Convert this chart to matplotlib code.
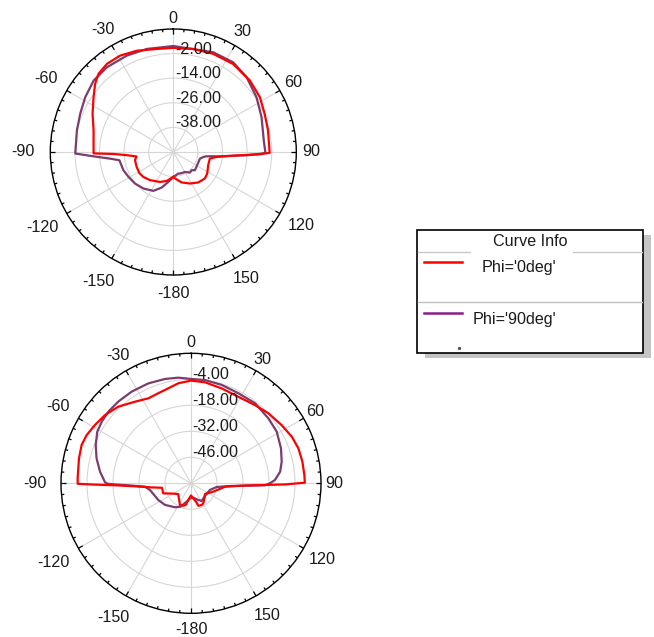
import numpy as np
import matplotlib
matplotlib.use("Agg")
import matplotlib.pyplot as plt
from matplotlib.patches import Rectangle
from matplotlib.lines import Line2D
from matplotlib.transforms import ScaledTranslation

plt.rcParams['font.family'] = ['Liberation Sans', 'DejaVu Sans']

# ---------------- data ----------------
angle_ticks = [0, 30, 60, 90, 120, 150, 180, -150, -120, -90, -60, -30]
angle_labels = ["0", "30", "60", "90", "120", "150", "-180", "-150", "-120", "-90", "-60", "-30"]

top_rings = [-38, -26, -14, -2]
top_ring_labels = ["-38.00", "-26.00", "-14.00", "-2.00"]
top_rlim = [-50, 10]

bot_rings = [-46, -32, -18, -4]
bot_ring_labels = ["-46.00", "-32.00", "-18.00", "-4.00"]
bot_rlim = [-60, 10]

# top chart, Phi='0deg'
top_phi0_theta = [-180, -173, -167, -156, -140.5, -130, -122, -112, -102, -96.9, -93.6, -91.9, -91.0,
                  -74.8, -64.6, -55.5, -48.9, -43.7, -37, -28.9, -19.8, -9.1, 0, 10.9, 22.1, 34.2,
                  46.9, 57.6, 67.3, 77.1, 90.5, 91.5, 92.8, 94, 96.7, 100.2, 110.8, 122.4, 130,
                  140.7, 152.1, 164.6, 173, 180]
top_phi0_db = [-37.8, -36.8, -35.5, -34, -32.2, -31, -30.5, -30.7, -30.9, -31.9, -26.6, -20.8, -11.1,
               -9.7, -6.4, -2.8, 0.6, 2.8, 3.8, 3.7, 2.5, 0.9, 0.8, 1.2, 1.7, 1.9,
               1.1, 0, -1.7, -2.6, -3.0, -7.8, -17.5, -22.4, -29, -31.9, -31.8, -30.4, -29.9,
               -30.8, -32.6, -34.6, -36.5, -37.8]

# top chart, Phi='90deg'
top_phi90_theta = [-180, -170.5, -162, -152.9, -140.7, -129.5, -119, -110.1, -98.7, -96, -93.1, -90.9,
                   -77.3, -67.6, -58.1, -48.1, -38.1, -25.7, -14.4, 0, 21.8, 33.7, 44.4, 56.6, 68.4,
                   82.6, 90.3, 91, 92.6, 95.7, 97.3, 99.5, 103.9, 119, 130.1, 134.8, 141, 149.7,
                   162.8, 167, 180]
top_phi90_db = [-37.8, -35.2, -31.8, -28.7, -27, -25.8, -25, -24.1, -23.4, -19, -11, -2.2,
                -1.8, -0.9, 0.6, 2.2, 2.5, 2.2, 1.9, 1.7, 2.4, 2.6, 1.1, -1.4, -3.7,
                -5.5, -5.1, -6.5, -14.3, -28.8, -33.6, -35.2, -36.6, -36.7, -36.2, -37.4, -37.1, -38.7,
                -39, -39.2, -37.8]

# bottom chart, Phi='0deg'
bot_phi0_theta = [-180, -172, -166.3, -161, -153.1, -145, -130, -118.5, -109.9, -98.8, -95.6, -93.1,
                  -91.5, -90.8, -90.25, -87.5, -77.4, -70.7, -65.2, -58.7, -51.5, -43.5, -34.5, -26.7,
                  -20, -13.4, -7.2, 0, 7.9, 17.9, 28.6, 39.3, 47.8, 57.3, 65.2, 71.9, 79, 85.8, 89.7,
                  90.7, 91.3, 92.3, 95.7, 110.6, 127.4, 138.4, 148.4, 153.8, 162, 163.6, 172, 180]
bot_phi0_db = [-53.2, -51.5, -48, -47.2, -46.9, -48.9, -51, -48.4, -44.1, -44.2, -37.8, -29.8,
               -19.1, -8.3, 1.0, 1.1, 1.8, 2.4, 1.9, 0.5, -0.9, -3.1, -6.7, -8.8,
               -8.4, -7.4, -5.7, -4.7, -5.1, -6.3, -6.9, -5.6, -3.8, -2, -0.2, 0.8, 1.1, 1.2, 1.3,
               -9.4, -20.2, -30.9, -41.6, -47.2, -50.5, -49.1, -47.4, -47, -47.3, -49.1, -52, -53.2]

# bottom chart, Phi='90deg'
bot_phi90_theta = [-180, -170, -155, -146.3, -129.8, -117, -105.8, -99.3, -94.2, -92, -91, -90.3, -89.3,
                   -82.7, -75.2, -68.1, -61.2, -55.4, -49.1, -41.7, -32.9, -23.1, -14, -6.9, 0, 7.7,
                   17.3, 27.7, 38.7, 50, 58.9, 68.7, 76.6, 82.6, 87.8, 90, 91.5, 92.3, 94, 98.2, 109.4,
                   131.5, 148.9, 156.4, 171, 180]
bot_phi90_db = [-52.5, -50.5, -46, -44.5, -41.8, -40.2, -38.9, -37.6, -35.2, -27, -20, -15, -13.7,
                -10.6, -7.4, -4.7, -2.4, -1.6, -1.1, -1.1, -1.2, -1.5, -2.1, -2.7, -3.8, -3.9,
                -4.5, -5.2, -4.8, -5.6, -6.1, -8, -9.8, -11.6, -14.8, -17.5, -20, -28.2, -39, -46, -49.2,
                -49.9, -48.9, -50.2, -52.1, -52.5]

legend_title = "Curve Info"
series_names = ["Phi='0deg'", "Phi='90deg'"]

# ---------------- styling ----------------
RED = '#ff0000'
PURPLE = '#7d3c6e'
LEG_PURPLE = '#8b1c8b'
GRID = '#d6d6d6'
TXT = '#1a1a1a'
FS = 11.6

W, H = 654, 637
fig = plt.figure(figsize=(W / 100, H / 100), dpi=100)


def make_polar(cx, cy, R, rlim, rings, ring_labels, label_r, curves):
    ax = fig.add_axes([(cx - R) / W, 1 - (cy + R) / H, 2 * R / W, 2 * R / H], projection='polar')
    ax.set_theta_zero_location('N')
    ax.set_theta_direction(-1)
    ax.set_ylim(rlim[0], rlim[1])
    ax.set_yticks(rings)
    ax.set_yticklabels([])
    ax.set_xticks(np.deg2rad(np.arange(0, 360, 30)))
    ax.set_xticklabels([])
    ax.tick_params(axis='both', length=0)
    ax.grid(True, which='major', color=GRID, lw=0.8)
    ax.spines['polar'].set_color('black')
    ax.spines['polar'].set_linewidth(1.0)
    ax.set_facecolor('white')
    for th, db, col in curves:
        ax.plot(np.deg2rad(th), db, color=col, lw=1.6, zorder=3)
    # inward ticks on the outer ring: every 5 deg, longer every 30 deg
    span = rlim[1] - rlim[0]
    for a in range(0, 360, 5):
        lp = 5.0 if a % 30 == 0 else 2.8
        t = np.deg2rad(a)
        ax.plot([t, t], [rlim[1] - lp / R * span, rlim[1]], color='black', lw=0.9,
                solid_capstyle='butt', zorder=4, clip_on=False)
    # radial labels
    off = ScaledTranslation(1.5 / 100, 0.0, fig.dpi_scale_trans)
    for rv, lab in zip(rings, ring_labels):
        ax.text(0, rv, lab, transform=ax.transData + off, ha='left', va='baseline',
                fontsize=FS, color=TXT, zorder=5)
    # angle labels
    for a, lab, rp in zip(angle_ticks, angle_labels, label_r):
        t = np.deg2rad(a)
        ax.text(0.5 + rp / (2 * R) * np.sin(t), 0.5 + rp / (2 * R) * np.cos(t), lab,
                transform=ax.transAxes, ha='center', va='center', fontsize=FS, color=TXT,
                clip_on=False)
    return ax


top_label_r = [133.4, 138.7, 138.4, 138.4, 148, 146, 141, 149.8, 150.9, 150, 147, 141.5]
bot_label_r = [140.6, 143, 143, 143, 151.6, 153, 146.7, 155.4, 159, 156, 153.7, 147]

make_polar(173.3, 152.0, 123.0, top_rlim, top_rings, top_ring_labels, top_label_r,
           [(top_phi90_theta, top_phi90_db, PURPLE), (top_phi0_theta, top_phi0_db, RED)])
make_polar(191.0, 483.3, 130.0, bot_rlim, bot_rings, bot_ring_labels, bot_label_r,
           [(bot_phi90_theta, bot_phi90_db, PURPLE), (bot_phi0_theta, bot_phi0_db, RED)])

# ---------------- legend box (pixel coordinates) ----------------
lax = fig.add_axes([0, 0, 1, 1], zorder=-1)
lax.set_xlim(0, W)
lax.set_ylim(H, 0)
lax.axis('off')

bx0, by0, bx1, by1 = 417.3, 230.0, 643.3, 352.7
lax.add_patch(Rectangle((bx0 + 8, by0 + 5), bx1 - bx0, by1 - by0, facecolor='#c4c4c4',
                        edgecolor='none'))
lax.add_patch(Rectangle((bx0, by0), bx1 - bx0, by1 - by0, facecolor='white',
                        edgecolor='black', lw=1.2))
lax.text((bx0 + bx1) / 2, 241.5, legend_title, ha='center', va='center', fontsize=FS,
         color=TXT)
lax.add_line(Line2D([bx0 + 1, 470], [251.7, 251.7], color='#c8c8c8', lw=1.0))
lax.add_line(Line2D([573, bx1 - 1], [251.7, 251.7], color='#c8c8c8', lw=1.0))
lax.add_line(Line2D([bx0 + 1, bx1 - 1], [301.7, 301.7], color='#c0c0c0', lw=1.0))
lax.add_line(Line2D([424, 461.7], [262.3, 262.3], color=RED, lw=1.8))
lax.text(481.7, 267.7, series_names[0], ha='left', va='center', fontsize=FS, color=TXT)
lax.add_line(Line2D([424, 461.7], [313.3, 313.3], color=LEG_PURPLE, lw=1.8))
lax.text(473.0, 319.3, series_names[1], ha='left', va='center', fontsize=FS, color=TXT)
lax.plot([459], [348.3], marker='s', ms=1.2, color='#555555')

fig.savefig('out.png', dpi=100)
